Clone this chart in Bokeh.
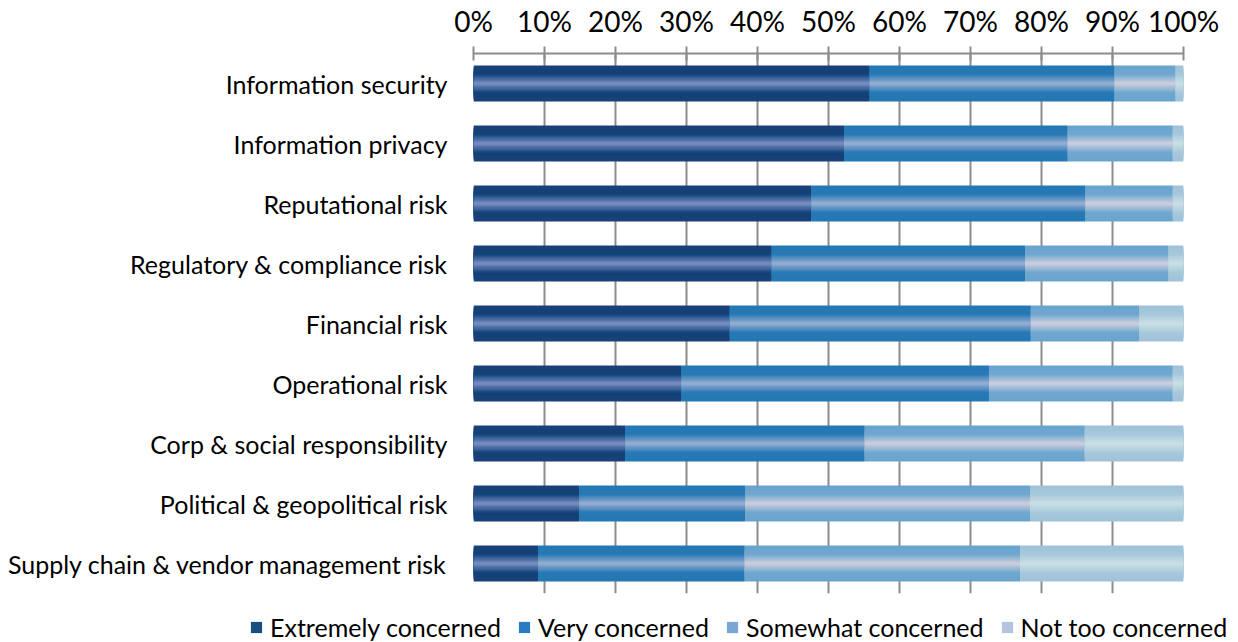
from bokeh.plotting import figure
from bokeh.layouts import column, row
from bokeh.models import (Range1d, FactorRange, FixedTicker, NumeralTickFormatter,
                          Legend, LegendItem, ColumnDataSource)
from bokeh.embed import file_html
from bokeh.resources import INLINE

categories = [
    "Information security",
    "Information privacy",
    "Reputational risk",
    "Regulatory & compliance risk",
    "Financial risk",
    "Operational risk",
    "Corp & social responsibility",
    "Political & geopolitical risk",
    "Supply chain & vendor management risk",
]
series_names = ["Extremely concerned", "Very concerned", "Somewhat concerned", "Not too concerned"]
extremely = [55.8, 52.2, 47.6, 42.0, 36.1, 29.3, 21.4, 14.9, 9.1]
very = [34.5, 31.5, 38.6, 35.7, 42.4, 43.3, 33.7, 23.4, 29.1]
somewhat = [8.6, 14.8, 12.3, 20.2, 15.3, 25.9, 31.0, 40.1, 38.8]
not_too = [1.1, 1.5, 1.5, 2.1, 6.2, 1.5, 13.9, 21.6, 23.0]
tick_values = [0, 0.1, 0.2, 0.3, 0.4, 0.5, 0.6, 0.7, 0.8, 0.9, 1.0]

FONT = "Lato"

# colour profiles: (distance-from-centre d, colour) ; d=1 edge, d=0 centre
profiles = [
    [(1.0, (0x1B, 0x40, 0x79)), (0.55, (0x10, 0x43, 0x78)), (0.25, (0x4E, 0x6E, 0xA6)), (0.0, (0x84, 0x9A, 0xC6))],
    [(1.0, (0x24, 0x78, 0xB4)), (0.55, (0x27, 0x79, 0xB5)), (0.25, (0x6A, 0x96, 0xC6)), (0.0, (0xA4, 0xB6, 0xD6))],
    [(1.0, (0x6A, 0xA5, 0xCD)), (0.55, (0x6E, 0xA6, 0xCE)), (0.25, (0xA6, 0xBE, 0xD8)), (0.0, (0xD8, 0xD0, 0xDE))],
    [(1.0, (0xA0, 0xC2, 0xD9)), (0.55, (0xA6, 0xC7, 0xDB)), (0.25, (0xBD, 0xD6, 0xE0)), (0.0, (0xCC, 0xE1, 0xE6))],
]
swatches = ["#1A4E80", "#2A7BC0", "#7AA6D6", "#B4C4E0"]


def color_at(profile, d):
    for (d1, c1), (d2, c2) in zip(profile[:-1], profile[1:]):
        if d2 <= d <= d1:
            t = (d1 - d) / (d1 - d2) if d1 != d2 else 0
            c = tuple(int(round(a + (b - a) * t)) for a, b in zip(c1, c2))
            return "#%02x%02x%02x" % c
    return "#%02x%02x%02x" % profile[-1][1]


values = [extremely, very, somewhat, not_too]
lefts, rights = [], []
acc = [0.0] * len(categories)
for vals in values:
    l = [a / 100 for a in acc]
    acc = [a + v for a, v in zip(acc, vals)]
    r = [min(a / 100, 1.0) for a in acc]
    lefts.append(l)
    rights.append(r)

p = figure(
    width=1238, height=600,
    y_range=FactorRange(*reversed(categories)),
    x_range=Range1d(0, 1),
    x_axis_location="above",
    output_backend="svg", toolbar_location=None,
    min_border_left=473, min_border_right=55, min_border_top=53, min_border_bottom=7,
)
p.outline_line_color = None
p.background_fill_color = "white"
p.border_fill_color = "white"

# legend strip below the chart
pl = figure(
    width=1238, height=42,
    y_range=FactorRange(*reversed(categories)),
    x_range=Range1d(0, 1),
    x_axis_location=None, y_axis_location=None,
    output_backend="svg", toolbar_location=None,
    min_border_left=0, min_border_right=0, min_border_top=0, min_border_bottom=0,
)
pl.outline_line_color = None
pl.xgrid.grid_line_color = None
pl.ygrid.grid_line_color = None

BAR_H = 0.6
N = 14
legend_items = []
for i, name in enumerate(series_names):
    src = ColumnDataSource(dict(y=categories, left=lefts[i], right=rights[i]))
    for k in range(N):
        d = 1 - k / N
        p.hbar(y="y", left="left", right="right", height=BAR_H * d, source=src,
               fill_color=color_at(profiles[i], d), line_color=None)
    r = pl.hbar(y="y", left="left", right="right", height=0, source=src,
                fill_color=swatches[i], line_color=None)
    legend_items.append(LegendItem(label=name, renderers=[r]))

xa = p.xaxis[0]
xa.ticker = FixedTicker(ticks=tick_values)
xa.formatter = NumeralTickFormatter(format="0%")
xa.axis_line_color = "#8C8C8C"
xa.axis_line_width = 2
xa.major_tick_line_color = "#8C8C8C"
xa.major_tick_line_width = 2
xa.major_tick_in = 7
xa.major_tick_out = 7
xa.minor_tick_line_color = None
xa.major_label_text_font = FONT
xa.major_label_text_font_size = "28px"
xa.major_label_text_color = "#000000"
xa.major_label_standoff = 9

ya = p.yaxis[0]
ya.axis_line_color = None
ya.major_tick_line_color = None
ya.minor_tick_line_color = None
ya.major_tick_in = 0
ya.major_tick_out = 0
ya.major_label_standoff = 26
ya.major_label_text_font = FONT
ya.major_label_text_font_size = "25px"
ya.major_label_text_color = "#000000"

p.xgrid.grid_line_color = "#8C8C8C"
p.xgrid.grid_line_width = 2
p.ygrid.grid_line_color = None

legend = Legend(items=legend_items, orientation="horizontal", location=(249, 0),
                glyph_width=14, glyph_height=14, label_standoff=7, spacing=16,
                padding=0, margin=0, border_line_color=None, background_fill_alpha=0,
                label_text_font=FONT, label_text_font_size="25px", label_text_color="#000000")
pl.add_layout(legend, "center")

layout = column(p, row(pl, spacing=0), spacing=0)
open("out.html", "w").write(file_html(layout, INLINE))
